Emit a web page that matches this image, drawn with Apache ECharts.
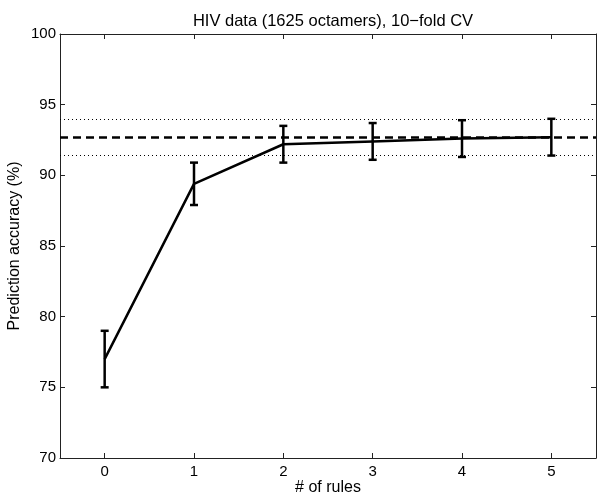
<!DOCTYPE html>
<html>
<head>
<meta charset="utf-8">
<script src="https://cdn.jsdelivr.net/npm/echarts@6/dist/echarts.min.js"></script>
<style>html,body{margin:0;padding:0;background:#fff}#c{width:600px;height:502px}</style>
</head>
<body>
<div id="c"></div>
<script>
var categories = ['0', '1', '2', '3', '4', '5'];
var meanValues = [77.0, 89.4, 92.2, 92.4, 92.6, 92.7];
var lowerValues = [75.0, 87.9, 90.9, 91.1, 91.3, 91.4];
var upperValues = [79.0, 90.9, 93.5, 93.7, 93.9, 94.0];
var dashedRef = 92.7;
var dottedRefs = [93.95, 91.45];
var yTicks = [70, 75, 80, 85, 90, 95, 100];

var font = 'Liberation Sans, Arial, Helvetica, sans-serif';
var chart = echarts.init(document.getElementById('c'), null, {renderer: 'canvas'});

var errData = categories.map(function (c, i) { return [i, lowerValues[i], upperValues[i]]; });

function renderErr(params, api) {
  var x = api.value(0);
  var lo = api.coord([x, api.value(1)]);
  var hi = api.coord([x, api.value(2)]);
  var cap = 4;
  var st = {stroke: '#000', lineWidth: 2.5};
  return {
    type: 'group',
    children: [
      {type: 'line', shape: {x1: lo[0], y1: lo[1], x2: hi[0], y2: hi[1]}, style: st},
      {type: 'line', shape: {x1: lo[0] - cap, y1: lo[1], x2: lo[0] + cap, y2: lo[1]}, style: st},
      {type: 'line', shape: {x1: hi[0] - cap, y1: hi[1], x2: hi[0] + cap, y2: hi[1]}, style: st}
    ]
  };
}

var axisLineStyle = {color: '#222', width: 1};
var option = {
  animation: false,
  backgroundColor: '#fff',
  textStyle: {fontFamily: font, color: '#000'},
  title: {
    text: 'HIV data (1625 octamers), 10\u2212fold CV',
    left: 328, textAlign: 'center', top: 8,
    textStyle: {fontFamily: font, fontSize: 16.5, fontWeight: 'normal', color: '#000'}
  },
  grid: {left: 60, right: 4, top: 34, bottom: 44, containLabel: false, outerBoundsMode: 'none'},
  xAxis: [{
    type: 'category', data: categories, boundaryGap: true,
    name: '# of rules', nameLocation: 'middle', nameGap: 22, nameMoveOverlap: false,
    nameTextStyle: {fontFamily: font, fontSize: 16, color: '#000'},
    axisLine: {show: true, lineStyle: axisLineStyle},
    axisTick: {show: true, inside: true, alignWithLabel: true, length: 5, lineStyle: axisLineStyle},
    axisLabel: {fontFamily: font, fontSize: 15, color: '#000', margin: 6},
    splitLine: {show: false}
  }, {
    type: 'category', data: categories, boundaryGap: true, position: 'top',
    axisLine: {show: true, lineStyle: axisLineStyle},
    axisTick: {show: true, inside: true, alignWithLabel: true, length: 5, lineStyle: axisLineStyle},
    axisLabel: {show: false}, splitLine: {show: false}
  }],
  yAxis: [{
    type: 'value', min: 70, max: 100, interval: 5,
    name: 'Prediction accuracy (%)', nameLocation: 'middle', nameGap: 37, nameMoveOverlap: false,
    nameTextStyle: {fontFamily: font, fontSize: 16, color: '#000'},
    axisLine: {show: true, lineStyle: axisLineStyle},
    axisTick: {show: true, inside: true, length: 5, lineStyle: axisLineStyle},
    axisLabel: {fontFamily: font, fontSize: 15, color: '#000', margin: 4,
      formatter: function (v) { return yTicks.indexOf(v) >= 0 ? String(v) : ''; }},
    splitLine: {show: false}
  }, {
    type: 'value', min: 70, max: 100, interval: 5, position: 'right',
    axisLine: {show: true, lineStyle: axisLineStyle},
    axisTick: {show: true, inside: true, length: 5, lineStyle: axisLineStyle},
    axisLabel: {show: false}, splitLine: {show: false}
  }],
  series: [{
    type: 'line',
    data: meanValues,
    symbol: 'none',
    lineStyle: {color: '#000', width: 2.5},
    z: 3,
    markLine: {
      silent: true, symbol: 'none', label: {show: false}, animation: false,
      data: [
        {yAxis: dashedRef, lineStyle: {color: '#000', width: 2.5, type: [8, 5]}},
        {yAxis: dottedRefs[0], lineStyle: {color: '#000', width: 1, type: [1, 3]}},
        {yAxis: dottedRefs[1], lineStyle: {color: '#000', width: 1, type: [1, 3]}}
      ]
    }
  }, {
    type: 'custom',
    data: errData,
    renderItem: renderErr,
    encode: {x: 0, y: [1, 2]},
    z: 4
  }]
};
chart.setOption(option);
</script>
</body>
</html>
